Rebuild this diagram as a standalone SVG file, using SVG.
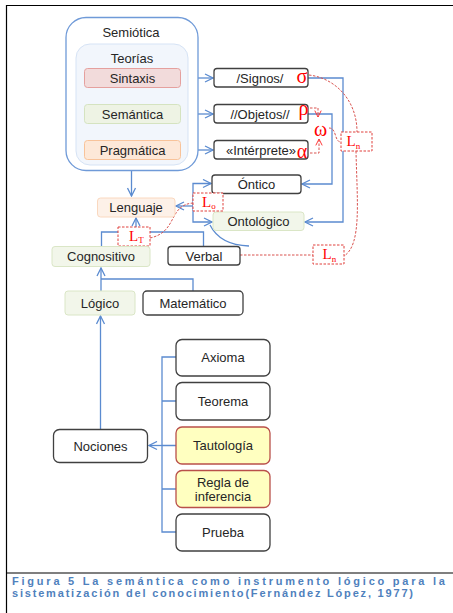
<svg xmlns="http://www.w3.org/2000/svg" width="453" height="613" viewBox="0 0 453 613">
<style>
.t{font-family:"Liberation Sans",Arial,sans-serif;font-size:13px;fill:#262626;text-anchor:middle}
.dk{fill:#fff;stroke:#404040;stroke-width:1.3}
.gr{fill:#f2f6ea;stroke:#dae6c6;stroke-width:1}
.bl{fill:none;stroke:#5b8bd0;stroke-width:1.3}
.rd{fill:none;stroke:#d9534f;stroke-width:1;stroke-dasharray:2.5 1.5}
.rb{fill:#fff;stroke:#e0403c;stroke-width:1;stroke-dasharray:2.5 1.5}
.gk{font-family:"Liberation Serif","DejaVu Serif",serif;font-size:20px;fill:#ff0000;text-anchor:middle}
.L{font-family:"Liberation Serif","DejaVu Serif",serif;font-size:15px;fill:#ff0000}
.sub{font-size:9px}
.cap{font-family:"Liberation Sans",Arial,sans-serif;font-size:11px;font-weight:bold;fill:#4f81bd}
</style>
<defs>
<marker id="a" viewBox="0 0 10 10" refX="9" refY="5" markerWidth="10" markerHeight="10" orient="auto" markerUnits="userSpaceOnUse">
<path d="M1,1 L9,5 L1,9" fill="none" stroke="#5b8bd0" stroke-width="1.3"/>
</marker>
<marker id="r" viewBox="0 0 10 10" refX="9" refY="5" markerWidth="8" markerHeight="8" orient="auto" markerUnits="userSpaceOnUse">
<path d="M1,1 L9,5 L1,9" fill="none" stroke="#ff3030" stroke-width="1.2"/>
</marker>
</defs>
<rect width="453" height="613" fill="#fff"/>
<!-- frame -->
<g id="frame" fill="none" stroke="#000" stroke-width="1.2">
<path d="M453,5.5 H6.5 V613"/>
<path d="M6.5,573 H453"/>
</g>
<!-- connectors -->
<g id="connectors">
<path class="bl" d="M181,78 H213" marker-end="url(#a)"/>
<path class="bl" d="M181,114 H213" marker-end="url(#a)"/>
<path class="bl" d="M181,150 H213" marker-end="url(#a)"/>
<path class="bl" d="M131.5,171 V196" marker-end="url(#a)"/>
<path class="bl" d="M308,78 H343 V222 H305" marker-end="url(#a)"/>
<path class="bl" d="M308,114 H332 V184 H302" marker-end="url(#a)"/>
<path class="bl" d="M193,205 V183.5 H211" marker-end="url(#a)"/>
<path class="bl" d="M193,205 V222 H212" marker-end="url(#a)"/>
<path class="bl" d="M193,206 H176" stroke-width="1.8" marker-end="url(#a)"/>
<path class="bl" d="M210,225 Q 220,245 249,246"/>
<path class="bl" d="M101.5,246 V232 H203.5 V246"/>
<path class="bl" d="M136,232 V218" marker-end="url(#a)"/>
<path class="bl" d="M193,291 V279 H101"/>
<path class="bl" d="M101,291 V268" marker-end="url(#a)"/>
<path class="bl" d="M100.5,429 V316" marker-end="url(#a)"/>
<path class="bl" d="M176,357 H162 V532 H176 M162,401 H176 M162,445.5 H176 M162,489 H176"/>
<path class="bl" d="M162,445.5 H149" marker-end="url(#a)"/>
<!-- red dashed -->
<path class="rd" d="M309,75 C 335,78 357,100 357,132"/>
<path class="rd" d="M329,128 C 337,128 334,142 341,142"/>
<path class="rd" d="M356,151 C 357,200 362,245 344,256"/>
<path class="rd" d="M240,255 H313"/>
<path class="rd" d="M150,238 C 178,232 168,205 193,203"/>
<path class="rd" stroke="#ff3030" d="M310,108 H318 V117" marker-end="url(#r)"/>
<path class="rd" stroke="#ff3030" d="M310,153 H319 V139" marker-end="url(#r)"/>
</g>
<!-- nodes -->
<g id="semiotica">
<rect x="66" y="17.5" width="132" height="153" rx="20" fill="#fff" stroke="#6f9ad8" stroke-width="1.3"/>
<text class="t" x="131" y="37">Semiótica</text>
</g>
<g id="teorias">
<rect x="76" y="44" width="112" height="121" rx="14" fill="#f2f6fc" stroke="#d6e3f5" stroke-width="1"/>
<text class="t" x="132" y="63">Teorías</text>
</g>
<g id="sintaxis">
<rect x="84.5" y="68.5" width="96" height="19" rx="3" fill="#f2dbdb" stroke="#e5a09e"/>
<text class="t" x="132.5" y="82.5">Sintaxis</text>
</g>
<g id="semantica">
<rect x="84.5" y="104.5" width="96" height="19" rx="3" fill="#eef3e4" stroke="#d5e3c0"/>
<text class="t" x="132.5" y="118.5">Semántica</text>
</g>
<g id="pragmatica">
<rect x="84.5" y="140.5" width="96" height="19" rx="3" fill="#fde8d8" stroke="#f8c39a"/>
<text class="t" x="132.5" y="154.5">Pragmática</text>
</g>
<g id="signos">
<rect class="dk" x="214" y="68.5" width="94" height="18.5" rx="3"/>
<text class="t" x="260" y="82.5">/Signos/</text>
<text class="gk" x="302" y="82.5">σ</text>
</g>
<g id="objetos">
<rect class="dk" x="214" y="104.5" width="94" height="18.5" rx="3"/>
<text class="t" x="260" y="118.5">//Objetos//</text>
<text class="gk" x="303.5" y="115">ρ</text>
</g>
<g id="interprete">
<rect class="dk" x="214" y="140.5" width="94" height="18.5" rx="3"/>
<text class="t" x="261" y="154.5">«Intérprete»</text>
<text class="gk" x="302" y="158">α</text>
</g>
<g id="omega">
<text class="gk" x="320.5" y="136">ω</text>
</g>
<g id="ln1">
<rect class="rb" x="341" y="132" width="31" height="19" fill="none"/>
<text class="L" x="346.5" y="146">L<tspan class="sub" dy="3">n</tspan></text>
</g>
<g id="ontico">
<rect class="dk" x="212" y="175" width="89" height="18.5" rx="3"/>
<text class="t" x="256.5" y="189">Óntico</text>
</g>
<g id="ontologico">
<rect class="gr" x="213" y="212" width="91" height="18.5" rx="3"/>
<text class="t" x="258.5" y="226">Ontológico</text>
</g>
<g id="lenguaje">
<rect x="97.5" y="198" width="77.5" height="19" rx="3" fill="#fdf1e8" stroke="#fad8bf"/>
<text class="t" x="136" y="212">Lenguaje</text>
</g>
<g id="lo">
<rect class="rb" x="193" y="193" width="30" height="18"/>
<text class="L" x="202" y="206.5">L<tspan class="sub" dy="2">o</tspan></text>
</g>
<g id="lt">
<rect class="rb" x="118" y="227" width="32" height="19"/>
<text class="L" x="129" y="240.5">L<tspan class="sub" dy="2.5">T</tspan></text>
</g>
<g id="cognositivo">
<rect class="gr" x="52" y="246.5" width="98" height="20" rx="3"/>
<text class="t" x="101" y="261">Cognositivo</text>
</g>
<g id="verbal">
<rect class="dk" x="168" y="246.5" width="72" height="18.5" rx="3"/>
<text class="t" x="204" y="260.5">Verbal</text>
</g>
<g id="ln2">
<rect class="rb" x="313" y="245" width="31" height="19"/>
<text class="L" x="322.5" y="258.5">L<tspan class="sub" dy="3">n</tspan></text>
</g>
<g id="logico">
<rect class="gr" x="65" y="291" width="70" height="24" rx="3"/>
<text class="t" x="100" y="307.5">Lógico</text>
</g>
<g id="matematico">
<rect class="dk" x="143" y="291" width="100" height="24" rx="4"/>
<text class="t" x="193" y="307.5">Matemático</text>
</g>
<g id="nociones">
<rect class="dk" x="53.5" y="429.5" width="94" height="33" rx="6"/>
<text class="t" x="100.5" y="450.5">Nociones</text>
</g>
<g id="axioma">
<rect class="dk" x="176" y="339.5" width="94" height="36.5" rx="6"/>
<text class="t" x="223" y="362">Axioma</text>
</g>
<g id="teorema">
<rect class="dk" x="176" y="382.5" width="94" height="37.5" rx="6"/>
<text class="t" x="223" y="406">Teorema</text>
</g>
<g id="tautologia">
<rect x="176" y="427" width="94" height="37" rx="6" fill="#ffffc0" stroke="#b9504a" stroke-width="1.3"/>
<text class="t" x="223" y="450">Tautología</text>
</g>
<g id="regla">
<rect x="176" y="470.5" width="94" height="37" rx="6" fill="#ffffc0" stroke="#b9504a" stroke-width="1.3"/>
<text class="t" x="223" y="486.5">Regla de</text>
<text class="t" x="223" y="500.5">inferencia</text>
</g>
<g id="prueba">
<rect class="dk" x="176" y="514" width="94" height="37" rx="6"/>
<text class="t" x="223" y="537">Prueba</text>
</g>
<!-- caption -->
<g id="caption">
<text class="cap" x="12" y="585" textLength="433" lengthAdjust="spacing">Figura 5 La semántica como instrumento lógico para la</text>
<text class="cap" x="12" y="597" textLength="401" lengthAdjust="spacing">sistematización del conocimiento(Fernández López, 1977)</text>
</g>
</svg>
